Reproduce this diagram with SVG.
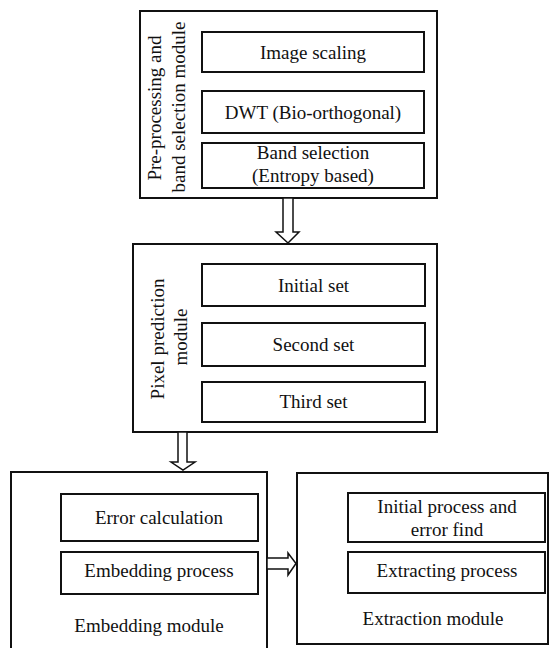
<svg xmlns="http://www.w3.org/2000/svg" width="550" height="648" viewBox="0 0 550 648">
<style>
.outer{fill:#fff;stroke:#111;stroke-width:2}
.inner{fill:#fff;stroke:#111;stroke-width:2}
.t{font-family:"Liberation Serif","Times New Roman",serif;font-size:19px;fill:#111;text-anchor:middle}
.arr{fill:#fff;stroke:#111;stroke-width:1.5;stroke-linejoin:miter}
</style>
<rect width="550" height="648" fill="#fff"/>
<g id="preprocessing">
<rect class="outer" x="140" y="11" width="297" height="187"/>
<text class="t" transform="translate(161,108) rotate(-90)">Pre-processing and</text>
<text class="t" transform="translate(185,107) rotate(-90)">band selection module</text>
</g>
<g id="image-scaling"><rect class="inner" x="202" y="32" width="222" height="40"/><text class="t" x="313" y="58.5">Image scaling</text></g>
<g id="dwt"><rect class="inner" x="202" y="91" width="222" height="42"/><text class="t" x="313" y="118.5">DWT (Bio-orthogonal)</text></g>
<g id="band-selection"><rect class="inner" x="202" y="143" width="222" height="45"/><text class="t" x="313" y="159">Band selection</text><text class="t" x="313" y="182">(Entropy based)</text></g>

<g id="pixel-prediction">
<rect class="outer" x="133" y="244" width="304" height="188"/>
<text class="t" transform="translate(164,339) rotate(-90)">Pixel prediction</text>
<text class="t" transform="translate(186.5,337) rotate(-90)">module</text>
</g>
<g id="initial-set"><rect class="inner" x="202" y="264" width="223" height="42"/><text class="t" x="313.5" y="291.5">Initial set</text></g>
<g id="second-set"><rect class="inner" x="202" y="323" width="223" height="43"/><text class="t" x="313.5" y="350.5">Second set</text></g>
<g id="third-set"><rect class="inner" x="202" y="382" width="223" height="40"/><text class="t" x="313.5" y="408">Third set</text></g>

<g id="embedding-module">
<rect class="outer" x="11" y="472" width="256" height="190"/>
<text class="t" x="149" y="632">Embedding module</text>
</g>
<g id="error-calculation"><rect class="inner" x="61" y="494" width="197" height="47"/><text class="t" x="159" y="524">Error calculation</text></g>
<g id="embedding-process"><rect class="inner" x="61" y="552" width="197" height="42"/><text class="t" x="159" y="577">Embedding process</text></g>

<g id="extraction-module">
<rect class="outer" x="297" y="473" width="251" height="171"/>
<text class="t" x="433" y="625">Extraction module</text>
</g>
<g id="initial-process"><rect class="inner" x="348" y="493" width="197" height="49"/><text class="t" x="447" y="513">Initial process and</text><text class="t" x="447" y="536">error find</text></g>
<g id="extracting-process"><rect class="inner" x="348" y="552" width="197" height="41"/><text class="t" x="447" y="577">Extracting process</text></g>

<g id="connectors">
<polygon class="arr" points="283,198 293,198 293,232 299,232 288,243 276,232 283,232"/>
<polygon class="arr" points="178,432 187,432 187,462 195,462 183,470 171,462 178,462"/>
<polygon class="arr" points="267,558 288,558 288,553 296,563.5 288,575 288,569 267,569"/>
</g>
</svg>
